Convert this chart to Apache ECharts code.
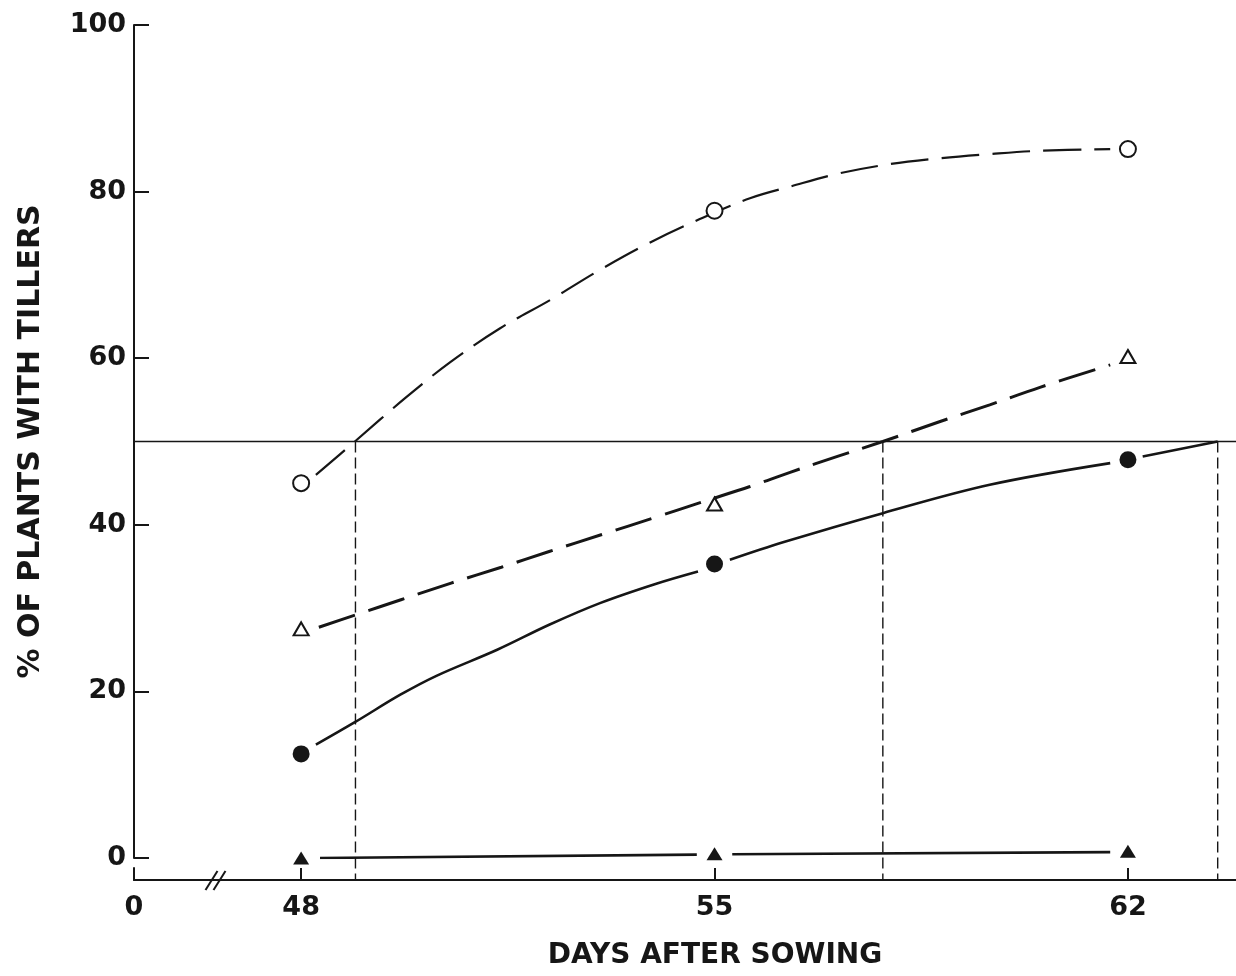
<!DOCTYPE html>
<html>
<head>
<meta charset="utf-8">
<script src="https://cdn.jsdelivr.net/npm/echarts@6/dist/echarts.min.js"></script>
<style>
  html, body { margin: 0; padding: 0; background: #ffffff; }
  #chart { width: 1236px; height: 976px; }
</style>
</head>
<body>
<div id="chart"></div>
<script>
// Observation days and measured percentages
const days = [48, 55, 62];
const openCircle = [45.0, 77.7, 85.1];
const openTriangle = [27.5, 42.5, 60.2];
const filledCircle = [12.5, 35.3, 47.8];
const filledTriangle = [0.0, 0.5, 0.8];

// Fitted curves, as [day, percent]; '-' marks a break in the stroke
const curveOpenCircle = [
  [48.25, 46.0], [48.91, 50.0], [49.76, 55.2], [50.52, 59.5], [51.37, 63.6],
  [52.22, 67.0], [53.06, 70.6], [53.91, 73.9], [54.75, 76.7], [55.6, 79.2],
  [56.28, 80.6], [57.12, 82.2], [57.97, 83.3], [58.82, 84.0], [59.66, 84.5],
  [60.51, 84.9], [61.7, 85.1]
];
const curveOpenTriangle = [
  [48.3, 27.7], [48.93, 29.2], [49.69, 31.0], [50.54, 33.0], [51.39, 34.9],
  [52.2, 36.8], [53.08, 38.8], [54.0, 40.9], [54.77, 42.7], [55.6, 44.6],
  [56.28, 46.3], [57.12, 48.3], [57.85, 50.0], [58.82, 52.4], [59.66, 54.4],
  [60.51, 56.5], [61.7, 59.2]
];
const curveFilledCircle = [
  [48.25, 13.6], [48.91, 16.3], [49.68, 19.6], [50.3, 21.9], [51.32, 25.0],
  [52.2, 28.0], [53.06, 30.6], [54.0, 32.9], [54.72, 34.4],
  ['-', '-'],
  [55.26, 35.8], [56.16, 37.9], [57.85, 41.4], [59.66, 44.8], [61.7, 47.4],
  ['-', '-'],
  [62.25, 48.2], [63.52, 50.0]
];
const curveFilledTriangle = [
  [48.32, 0.0], [54.7, 0.4],
  ['-', '-'],
  [55.3, 0.45], [61.7, 0.7]
];

// 50 % level and the days at which each curve reaches it
const THRESHOLD = 50;
const crossDays = [48.92, 57.85, 63.52];

// Axis ticks
const yTicks = [0, 20, 40, 60, 80, 100];
const xTicks = [48, 55, 62];

const INK = '#161616';
const FONT = '"DejaVu Sans", "Liberation Sans", sans-serif';

// Layout
const GRID_LEFT = 134;
const PLOT_TOP = 25;
const PLOT_HEIGHT = 833;
const AXIS_GAP = 22;          // x-axis sits below the 0 % level
const STUB = 12;
const X_MIN = 45.17;          // left end of the broken day axis (labelled 0)
const X_MAX = 63.83;
const AXIS_BREAK_AT = 46.55;

// value (in % units) at which the offset x-axis line lies
const baseLevel = -AXIS_GAP * 100 / PLOT_HEIGHT;

const pairs = (xs, ys) => xs.map((x, i) => [x, ys[i]]);

const curve = (data, lineStyle) => ({
  type: 'line', xAxisIndex: 0, yAxisIndex: 0, data,
  smooth: 0.35, symbol: 'none', showSymbol: false, silent: true, connectNulls: false,
  lineStyle: Object.assign({ color: INK, cap: 'butt' }, lineStyle), z: 2
});

const markers = (ys, symbol, size, filled) => ({
  type: 'scatter', xAxisIndex: 0, yAxisIndex: 0,
  data: pairs(days, ys), symbol, symbolSize: size, silent: true,
  itemStyle: filled
    ? { color: INK, opacity: 1 }
    : { color: INK, borderColor: INK, borderWidth: 1.5, opacity: 1 },
  z: 5
});

const chart = echarts.init(document.getElementById('chart'));

const option = {
  backgroundColor: '#ffffff',
  animation: false,
  grid: [
    { left: GRID_LEFT, right: 0, top: PLOT_TOP, height: PLOT_HEIGHT },
    { left: GRID_LEFT, right: 0, top: PLOT_TOP + PLOT_HEIGHT + AXIS_GAP - STUB, height: STUB }
  ],
  xAxis: [
    { gridIndex: 0, type: 'value', min: X_MIN, max: X_MAX, show: false },
    {
      gridIndex: 1, type: 'value', min: X_MIN, max: X_MAX, position: 'bottom',
      splitLine: { show: false },
      axisLine: { show: true, lineStyle: { color: INK, width: 2 } },
      axisTick: { show: true, inside: true, length: 12, customValues: xTicks,
                  lineStyle: { color: INK, width: 2 } },
      axisLabel: {
        show: true, customValues: [X_MIN].concat(xTicks), margin: 14,
        formatter: v => (v < xTicks[0] ? '0' : String(Math.round(v))),
        color: INK, fontFamily: FONT, fontWeight: 'bold', fontSize: 27
      }
    }
  ],
  yAxis: [
    {
      gridIndex: 0, type: 'value', min: 0, max: 100, interval: 20,
      splitLine: { show: false },
      axisLine: { show: true, lineStyle: { color: INK, width: 2 } },
      axisTick: { show: true, inside: true, length: 15, customValues: yTicks,
                  lineStyle: { color: INK, width: 2 } },
      axisLabel: { customValues: yTicks, margin: 8, color: INK, fontFamily: FONT,
                   fontWeight: 'bold', fontSize: 27 },
      name: '% OF PLANTS WITH TILLERS', nameLocation: 'middle', nameRotate: 90, nameGap: 88,
      nameTextStyle: { color: INK, fontFamily: FONT, fontWeight: 'bold', fontSize: 30 }
    },
    {
      gridIndex: 1, type: 'value', min: 0, max: 1,
      splitLine: { show: false }, axisTick: { show: false }, axisLabel: { show: false },
      axisLine: { show: true, lineStyle: { color: INK, width: 2 } }
    }
  ],
  series: [
    // 50 % reference line
    {
      type: 'line', xAxisIndex: 0, yAxisIndex: 0, silent: true, symbol: 'none',
      data: [[X_MIN, THRESHOLD], [X_MAX, THRESHOLD]],
      lineStyle: { color: INK, width: 1.6 }, z: 1
    },
    // drops from the 50 % line to the day axis
    ...crossDays.map(d => ({
      type: 'line', xAxisIndex: 0, yAxisIndex: 0, silent: true, symbol: 'none', clip: false,
      data: [[d, THRESHOLD], [d, baseLevel]],
      lineStyle: { color: INK, width: 1.4, type: [11, 5] }, z: 1
    })),
    curve(curveOpenCircle, { width: 2.2, type: [38, 13] }),
    curve(curveOpenTriangle, { width: 3, type: [38, 14] }),
    curve(curveFilledCircle, { width: 2.6, type: 'solid' }),
    curve(curveFilledTriangle, { width: 2.6, type: 'solid' }),
    markers(openCircle, 'emptyCircle', 16, false),
    markers(openTriangle, 'emptyTriangle', [15, 13], false),
    markers(filledCircle, 'circle', 17, true),
    markers(filledTriangle, 'triangle', [16, 13], true)
  ]
};

chart.setOption(option);

// axis-break slashes and the day-axis title
const axisY = PLOT_TOP + PLOT_HEIGHT + AXIS_GAP;
const bx = chart.convertToPixel({ xAxisIndex: 1 }, AXIS_BREAK_AT);
const slash = dx => ({
  type: 'line', silent: true,
  shape: { x1: bx + dx - 6, y1: axisY + 10, x2: bx + dx + 6, y2: axisY - 9 },
  style: { stroke: INK, lineWidth: 2 }
});
chart.setOption({
  graphic: [
    slash(-4), slash(4),
    {
      type: 'text', silent: true, x: 715, y: 956,
      style: { text: 'DAYS AFTER SOWING', fill: INK, textAlign: 'center',
               textVerticalAlign: 'middle', font: `bold 28px ${FONT}` }
    }
  ]
});
</script>
</body>
</html>
